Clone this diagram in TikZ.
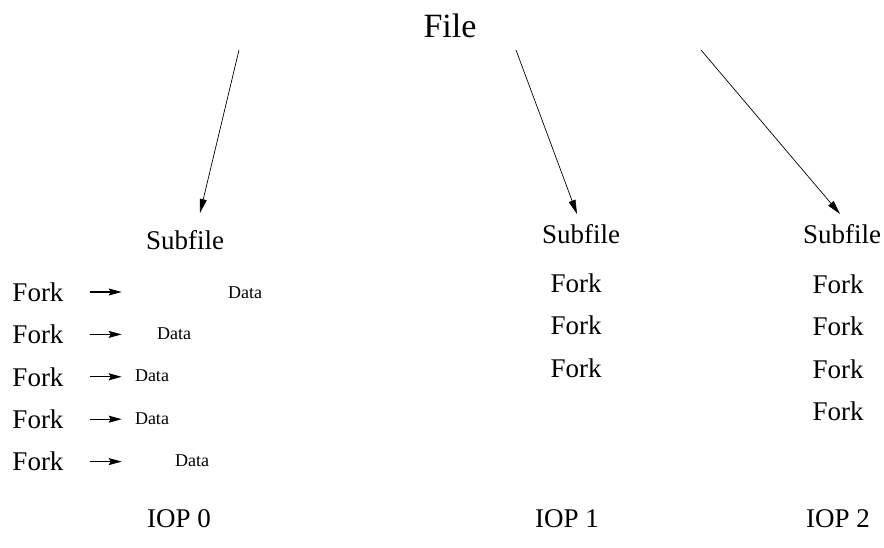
\documentclass[tikz,border=0pt]{standalone}
\usepackage{fontspec}
\setmainfont{Liberation Serif}
\usetikzlibrary{positioning,arrows.meta}

\begin{document}
\begin{tikzpicture}[
        x=1pt, y=-1pt,
        node distance=23pt,
        every node/.style={inner sep=0pt, align=center},
        big/.style={font=\fontsize{34}{40}\selectfont},
        mid/.style={font=\fontsize{27}{32}\selectfont},
        small/.style={font=\fontsize{18}{22}\selectfont},
        tofile/.style={-{Triangle[length=14pt,width=7pt]}, line width=0.7pt},
        todata/.style={-{Stealth[length=13pt,width=7pt,inset=2pt]}, line width=1.2pt}
    ]
        \useasboundingbox (0,0) rectangle (884,548);

        \node[big] (file) at (450,26) {File};
        \coordinate (s0) at (239,50);
        \coordinate (s1) at (516,50);
        \coordinate (s2) at (701,50);
        \coordinate (t0) at (200,213);
        \coordinate (t1) at (577,214);
        \coordinate (t2) at (840,214);

        \node[mid] (sub0) at (185,240) {Subfile};
        \node[mid] (sub1) at (581,234) {Subfile};
        \node[mid] (sub2) at (842,234) {Subfile};

        % left subfile with its data
        \node[mid] (fa1) at (38,292) {Fork};
        \node[mid] (fa2) [below=of fa1] {Fork};
        \node[mid] (fa3) [below=of fa2] {Fork};
        \node[mid] (fa4) [below=of fa3] {Fork};
        \node[mid] (fa5) [below=of fa4] {Fork};
        \node[small] (da1) at (245,293) {Data};
        \node[small] (da2) at (174,334) {Data};
        \node[small] (da3) at (152,376) {Data};
        \node[small] (da4) at (152,419) {Data};
        \node[small] (da5) at (192,461) {Data};

        \node[mid] (fb1) at (576,283) {Fork};
        \node[mid] (fb2) [below=of fb1] {Fork};
        \node[mid] (fb3) [below=of fb2] {Fork};

        \node[mid] (fc1) at (838,284) {Fork};
        \node[mid] (fc2) [below=of fc1] {Fork};
        \node[mid] (fc3) [below=of fc2] {Fork};
        \node[mid] (fc4) [below=of fc3] {Fork};

        \node[mid] (iop0) at (179,519) {IOP 0};
        \node[mid] (iop1) at (567,519) {IOP 1};
        \node[mid] (iop2) at (838,519) {IOP 2};

        \draw[tofile] (s0) -- (t0);
        \draw[tofile] (s1) -- (t1);
        \draw[tofile] (s2) -- (t2);

        \draw[todata] ([xshift=26pt]fa1.east) -- ([xshift=58pt]fa1.east);
        \draw[todata] ([xshift=26pt]fa2.east) -- ([xshift=58pt]fa2.east);
        \draw[todata] ([xshift=26pt]fa3.east) -- ([xshift=58pt]fa3.east);
        \draw[todata] ([xshift=26pt]fa4.east) -- ([xshift=58pt]fa4.east);
        \draw[todata] ([xshift=26pt]fa5.east) -- ([xshift=58pt]fa5.east);
    \end{tikzpicture}
\end{document}
